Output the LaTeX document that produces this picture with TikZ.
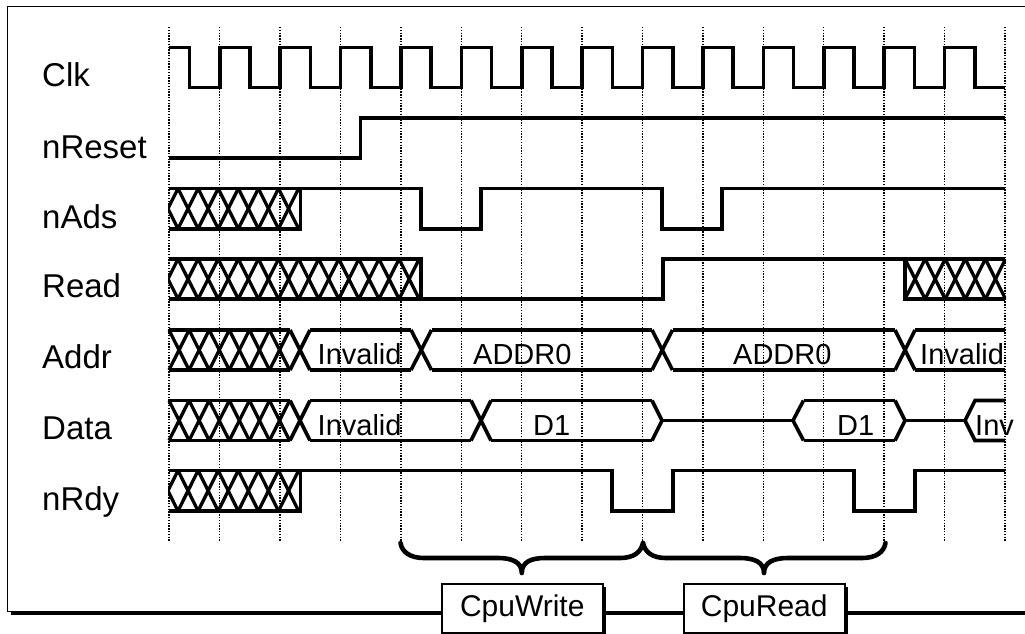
\documentclass[tikz,border=0pt]{standalone}
\usepackage{fontspec}
\setmainfont{Liberation Sans}
\newcommand{\fsA}{\fontsize{33}{36}\selectfont}
\newcommand{\fsB}{\fontsize{29}{32}\selectfont}
\newcommand{\fsC}{\fontsize{30}{33}\selectfont}
% zigzag hatch: \hatch{first vertex x}{steps}{ytop}{ybot}{clip left}{clip right}
\newcommand{\hatch}[6]{%
  \begin{scope}
    \clip (#5,#3-4) rectangle (#6,#4+4);
    \foreach \i in {1,...,#2}{
      \draw[hatchline] ({#1+20.1*(\i-1)},#3) -- ({#1+20.1*\i},#4);
      \draw[hatchline] ({#1+20.1*(\i-1)},#4) -- ({#1+20.1*\i},#3);
    }
  \end{scope}}
% bus segment and crossing
\newcommand{\busseg}[4]{\draw[sig] (#1,#3) -- (#2,#3) (#1,#4) -- (#2,#4);}
\newcommand{\cross}[4]{\draw[sig] (#1,#3) -- (#2,#4) (#1,#4) -- (#2,#3);}
\tikzset{
  x=1pt,y=-1pt,
  sig/.style={line width=3.6pt,black,line join=miter},
  hatchline/.style={line width=3.3pt,black,line cap=butt},
  grid line/.style={line width=1.5pt,black,dash pattern=on 1.4pt off 1.4pt},
  label/.style={anchor=base west,inner sep=0pt,font=\fsA},
  val/.style={anchor=base west,inner sep=0pt,font=\fsB},
  brace/.style={line width=4.6pt,black,line cap=round,line join=round},
  taskbox/.style={draw=black,line width=1.5pt,fill=white,minimum width=161pt,minimum height=49pt,inner sep=0pt,font=\fsC},
  shadowfill/.style={fill=black,draw=none},
}
\begin{document}
\begin{tikzpicture}
\useasboundingbox (0,0) rectangle (1025,633);
\fill[white] (0,0) rectangle (1025,633);
% frame with shadow
\fill[shadowfill] (11,10) rectangle (1035,615);
\draw[line width=1.5pt,fill=white] (7.5,6.7) rectangle (1035,611.5);
% grid
\foreach \gx in {169,219.7,280.1,340.5,400.9,461.3,521.7,582.1,642.5,702.9,763.3,823.7,884.1,944.5,1004.9}
  \draw[grid line] (\gx,27) -- (\gx,542);
% labels
\node[label] (lclk) at (42,86) {Clk};
\node[label] (lrst) at (42,158) {nReset};
\node[label] (lads) at (42,228) {nAds};
\node[label] (lrd) at (42,297) {Read};
\node[label] (laddr) at (42,368) {Addr};
\node[label] (ldata) at (42,439) {Data};
\node[label] (lrdy) at (42,510) {nRdy};
% Clk
\draw[sig] (169,47.5) -- (189.5,47.5) -- (189.5,87.5)
  foreach \r in {219.7,280.1,340.5,400.9,461.3,521.7,582.1,642.5,702.9,763.3,823.7,884.1,944.5}
    { -- (\r,87.5) -- (\r,47.5) -- ({\r+30.2},47.5) -- ({\r+30.2},87.5) }
  -- (1005,87.5);
% nReset
\draw[sig] (169,158) -- (360.5,158) -- (360.5,118) -- (1005,118);
% nAds
\draw[sig] (169,188.5) -- (421,188.5) -- (421,228.7) -- (481,228.7) -- (481,188.5) -- (662,188.5) -- (662,228.7) -- (722,228.7) -- (722,188.5) -- (1005,188.5);
\draw[sig] (169,228.7) -- (300.5,228.7) -- (300.5,188.5);
\hatch{157.9}{8}{188.5}{228.7}{168}{300.5}
% Read
\draw[sig] (169,259) -- (421,259) -- (421,299) -- (663,299) -- (663,259) -- (1005,259);
\draw[sig] (169,299) -- (421,299);
\hatch{157.9}{14}{259}{299}{168}{421}
\draw[sig] (1005,299) -- (905,299) -- (905,259);
\hatch{905}{5}{259}{299}{905}{1006}
% Addr
\busseg{169}{290}{330}{370}
\hatch{169}{6}{330}{370}{167}{291}
\cross{290}{310}{330}{370}
\busseg{310}{411}{330}{370}
\cross{411}{431.5}{330}{370}
\busseg{431.5}{652}{330}{370}
\cross{652}{672.5}{330}{370}
\busseg{672.5}{895}{330}{370}
\cross{895}{915}{330}{370}
\busseg{915}{1005}{330}{370}
\node[val] (ai1) at (317.5,364) {Invalid};
\node[val] (aa1) at (473,364) {ADDR0};
\node[val] (aa2) at (733,364) {ADDR0};
\node[val] (ai2) at (920,364) {Invalid};
% Data
\busseg{169}{290}{400.5}{440.5}
\hatch{169}{6}{400.5}{440.5}{167}{291}
\cross{290}{310}{400.5}{440.5}
\busseg{310}{471}{400.5}{440.5}
\cross{471}{491}{400.5}{440.5}
\busseg{491}{652}{400.5}{440.5}
\draw[sig] (652,400.5) -- (662,420.5) -- (652,440.5);
\draw[sig] (662,420.5) -- (793,420.5);
\draw[sig] (803.5,400.5) -- (793,420.5) -- (803.5,440.5);
\busseg{803.5}{895}{400.5}{440.5}
\draw[sig] (895,400.5) -- (905,420.5) -- (895,440.5);
\draw[sig] (905,420.5) -- (965,420.5);
\draw[sig] (1005,400.5) -- (975,400.5) -- (965,420.5) -- (975,440.5) -- (1005,440.5);
\node[val] (di1) at (317.5,435.7) {Invalid};
\node[val] (dd1) at (533,435.7) {D1};
\node[val] (dd2) at (837,435.7) {D1};
\node[val] (di2) at (975,435.7) {Inv};
% nRdy
\draw[sig] (169,470.5) -- (612,470.5) -- (612,511) -- (673,511) -- (673,470.5) -- (854,470.5) -- (854,511) -- (915,511) -- (915,470.5) -- (1005,470.5);
\draw[sig] (169,511) -- (300.5,511) -- (300.5,470.5);
\hatch{157.9}{8}{470.5}{511}{168}{300.5}
% braces
\coordinate (b1l) at (400.5,543);
\coordinate (b1m) at (643,543);
\coordinate (b1t) at (521.8,573);
\coordinate (b2r) at (885.5,543);
\coordinate (b2t) at (764,573);
\draw[brace] (b1l) .. controls (402,552) and (410,558) .. (424,558) -- (498,558)
  .. controls (512,558) and (521.8,562) .. (b1t)
  .. controls (521.8,562) and (531,558) .. (545,558) -- (620,558)
  .. controls (634,558) and (641,552) .. (b1m);
\draw[brace] (b1m) .. controls (645,552) and (652,558) .. (666,558) -- (740,558)
  .. controls (754,558) and (764,562) .. (b2t)
  .. controls (764,562) and (774,558) .. (788,558) -- (862,558)
  .. controls (876,558) and (884,552) .. (b2r);
% boxes
\fill[shadowfill] (444.5,586.5) rectangle (606,640);
\node[taskbox,anchor=north west] (cw) at (441,583.2) {CpuWrite};
\fill[shadowfill] (686.5,586.5) rectangle (848,640);
\node[taskbox,anchor=north west] (cr) at (683,583.2) {CpuRead};
\end{tikzpicture}
\end{document}
